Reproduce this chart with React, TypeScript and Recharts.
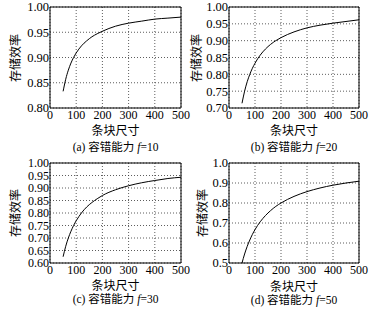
import React from 'react';
import { LineChart, Line, XAxis, YAxis, CartesianGrid, ReferenceArea } from 'recharts';

const stripSizes = [50, 60, 70, 80, 90, 100, 120, 140, 160, 180, 200, 250, 300, 350, 400, 450, 500];
const effF10 = [0.833, 0.857, 0.875, 0.889, 0.9, 0.909, 0.923, 0.933, 0.941, 0.947, 0.952, 0.962, 0.968, 0.972, 0.976, 0.978, 0.98];
const effF20 = [0.714, 0.75, 0.778, 0.8, 0.818, 0.833, 0.857, 0.875, 0.889, 0.9, 0.909, 0.926, 0.938, 0.946, 0.952, 0.957, 0.962];
const effF30 = [0.625, 0.667, 0.7, 0.727, 0.75, 0.769, 0.8, 0.824, 0.842, 0.857, 0.87, 0.893, 0.909, 0.921, 0.93, 0.938, 0.943];
const effF50 = [0.5, 0.545, 0.583, 0.615, 0.643, 0.667, 0.706, 0.737, 0.762, 0.783, 0.8, 0.833, 0.857, 0.875, 0.889, 0.9, 0.909];

const xTicks = [0, 100, 200, 300, 400, 500];
const yTicksA = [0.8, 0.85, 0.9, 0.95, 1.0];
const yTicksB = [0.7, 0.75, 0.8, 0.85, 0.9, 0.95, 1.0];
const yTicksC = [0.6, 0.65, 0.7, 0.75, 0.8, 0.85, 0.9, 0.95, 1.0];
const yTicksD = [0.5, 0.6, 0.7, 0.8, 0.9, 1.0];

const xTitle = '条块尺寸';
const yTitle = '存储效率';
const captionText = '容错能力';

const NUM_FONT = '"Liberation Serif", "DejaVu Serif", serif';
const CJK_FONT = '"Noto Sans CJK SC", "Noto Sans", sans-serif';

type PanelProps = {
  values: number[];
  yTicks: number[];
  digits: number;
  yFont: number;
  letter: string;
  f: number;
  left: number;
  top: number;
  w: number;
  h: number;
  L: number;
  R: number;
  T: number;
  B: number;
  yTitleX: number;
  xTitleY: number;
  capY: number;
};

function Panel(p: PanelProps) {
  const data = stripSizes.map((x, i) => ({ x, y: p.values[i] }));
  const lo = p.yTicks[0];
  const hi = p.yTicks[p.yTicks.length - 1];
  const xAxisH = 14;
  const cx = (p.L + p.R) / 2;
  return (
    <div style={{ position: 'absolute', left: p.left, top: p.top, width: p.w, height: p.h }}>
      <LineChart
        width={p.w}
        height={p.h}
        data={data}
        margin={{ top: p.T, right: p.w - p.R, left: 0, bottom: p.h - p.B - xAxisH }}
      >
        <CartesianGrid stroke="#333" strokeDasharray="1 2" strokeWidth={0.8} horizontalValues={p.yTicks} verticalValues={xTicks} />
        <XAxis
          dataKey="x"
          type="number"
          domain={[0, 500]}
          ticks={xTicks}
          height={xAxisH}
          tickLine={false}
          axisLine={false}
          tickSize={0}
          tickMargin={2}
          interval={0}
          tick={{ fill: '#000', fontSize: 12, fontFamily: NUM_FONT }}
        />
        <YAxis
          type="number"
          domain={[lo, hi]}
          ticks={p.yTicks}
          width={p.L}
          tickLine={false}
          axisLine={false}
          tickSize={0}
          tickMargin={1}
          interval={0}
          allowDataOverflow
          tickFormatter={(v: number) => v.toFixed(p.digits)}
          tick={{ fill: '#000', fontSize: p.yFont, fontFamily: NUM_FONT }}
        />
        <ReferenceArea x1={0} x2={500} y1={lo} y2={hi} fill="none" stroke="#000" strokeWidth={1} fillOpacity={0} />
        <Line
          type="monotone"
          dataKey="y"
          stroke="#000"
          strokeWidth={1}
          dot={false}
          isAnimationActive={false}
        />
      </LineChart>
      <div
        style={{
          position: 'absolute',
          left: p.yTitleX - 26,
          top: (p.T + p.B) / 2 - 6,
          width: 52,
          height: 12,
          lineHeight: '12px',
          textAlign: 'center',
          transform: 'rotate(-90deg)',
          fontFamily: CJK_FONT,
          fontSize: 12,
          color: '#000',
          whiteSpace: 'nowrap',
        }}
      >
        {yTitle}
      </div>
      <div
        style={{
          position: 'absolute',
          left: cx - 26,
          top: p.xTitleY - 6,
          width: 52,
          height: 12,
          lineHeight: '12px',
          textAlign: 'center',
          fontFamily: CJK_FONT,
          fontSize: 12,
          color: '#000',
          whiteSpace: 'nowrap',
        }}
      >
        {xTitle}
      </div>
      <div
        style={{
          position: 'absolute',
          left: cx - 60,
          top: p.capY - 6,
          width: 120,
          height: 12,
          lineHeight: '12px',
          textAlign: 'center',
          fontSize: 11.5,
          color: '#000',
          whiteSpace: 'nowrap',
        }}
      >
        <span style={{ fontFamily: NUM_FONT }}>({p.letter}) </span>
        <span style={{ fontFamily: CJK_FONT }}>{captionText}</span>
        <span style={{ fontFamily: NUM_FONT }}>
          {' '}
          <i>f</i>={p.f}
        </span>
      </div>
    </div>
  );
}

export default function App() {
  return (
    <div style={{ position: 'absolute', left: 0, top: 0, width: 378, height: 309, background: '#fff', overflow: 'hidden' }}>
      <Panel values={effF10} yTicks={yTicksA} digits={2} yFont={12.5} letter="a" f={10} left={0} top={0} w={200} h={150} L={50} R={181} T={7} B={108} yTitleX={15} xTitleY={130} capY={146} />
      <Panel values={effF20} yTicks={yTicksB} digits={2} yFont={12.5} letter="b" f={20} left={189} top={0} w={189} h={150} L={40} R={170} T={7} B={108} yTitleX={7} xTitleY={130} capY={146} />
      <Panel values={effF30} yTicks={yTicksC} digits={2} yFont={12} letter="c" f={30} left={0} top={150} w={200} h={159} L={50} R={181} T={13} B={113} yTitleX={15} xTitleY={135} capY={148} />
      <Panel values={effF50} yTicks={yTicksD} digits={1} yFont={12.5} letter="d" f={50} left={189} top={150} w={189} h={159} L={40} R={170} T={13} B={113} yTitleX={13} xTitleY={136} capY={149} />
    </div>
  );
}
